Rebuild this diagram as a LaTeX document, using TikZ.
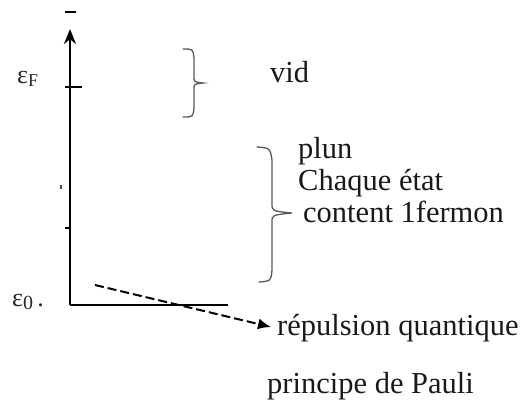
\documentclass[tikz,border=0pt]{standalone}
\usepackage{fontspec}
\setmainfont{Liberation Serif}
\usetikzlibrary{arrows.meta}
\tikzset{
  lbl/.style={inner sep=0pt, anchor=base west, text=black!90, font=\fontsize{30.5}{32}\selectfont},
  sym/.style={inner sep=0pt, anchor=base west, text=black!85, font=\fontsize{26}{26}\selectfont},
  axisline/.style={line width=2.4pt, black},
  tickmark/.style={line width=2pt, black},
  bracepath/.style={line width=1.3pt, black!65, line cap=round},
  dasharrow/.style={line width=2pt, black, dash pattern=on 9pt off 4pt, -{Latex[length=13pt,width=11pt]}}
}
\begin{document}
\begin{tikzpicture}[x=1pt,y=-1pt]
\useasboundingbox (0,0) rectangle (526,416);
% axis
\coordinate (o) at (70,305);
\coordinate (top) at (70,29);
\coordinate (hx) at (228,305);
\draw[axisline, -{Stealth[length=15pt,width=12pt]}] (o) -- (top);
\draw[axisline] (o) -- (hx);
% ticks
\coordinate (t0a) at (65,12); \coordinate (t0b) at (76,12);
\draw[tickmark] (t0a) -- (t0b);
\coordinate (tfa) at (65,87); \coordinate (tfb) at (82,87);
\draw[tickmark] (tfa) -- (tfb);
\coordinate (t1a) at (61,185); \coordinate (t1b) at (61,189);
\draw[line width=1.2pt, black!70] (t1a) -- (t1b);
\coordinate (t2a) at (65,228); \coordinate (t2b) at (70,228);
\draw[tickmark] (t2a) -- (t2b);
% axis labels
\node[sym] (ef) at (17,83) {ε\raisebox{-3pt}{\fontsize{18}{18}\selectfont F}};
\node[sym] (e0) at (12,306) {ε\raisebox{-3pt}{\fontsize{20}{20}\selectfont 0}\,.};
% braces
\draw[bracepath] (183,49) .. controls (193,49) .. (194,58) -- (194,77)
  .. controls (194,82) .. (203,83) .. controls (194,84) .. (194,89)
  -- (194,108) .. controls (193,117) .. (183,117);
\draw[bracepath] (257,147) .. controls (270,148) .. (272,160) -- (272,204)
  .. controls (272,211) .. (292,213) .. controls (272,215) .. (272,222)
  -- (272,270) .. controls (271,281) .. (259,282);
% texts
\node[lbl] (vid) at (270,82) {vid};
\node[lbl] (plun) at (298,158) {plun};
\node[lbl] (chaque) at (298,190) {Chaque état};
\node[lbl] (content) at (303,222) {content 1fermon};
\node[lbl] (rep) at (277,335) {répulsion quantique};
\node[lbl] (pauli) at (267,393) {principe de Pauli};
% dashed arrow
\coordinate (ds) at (95,285);
\draw[dasharrow] (ds) -- ([xshift=-6pt]rep.base west |- 0,327);
\end{tikzpicture}
\end{document}
